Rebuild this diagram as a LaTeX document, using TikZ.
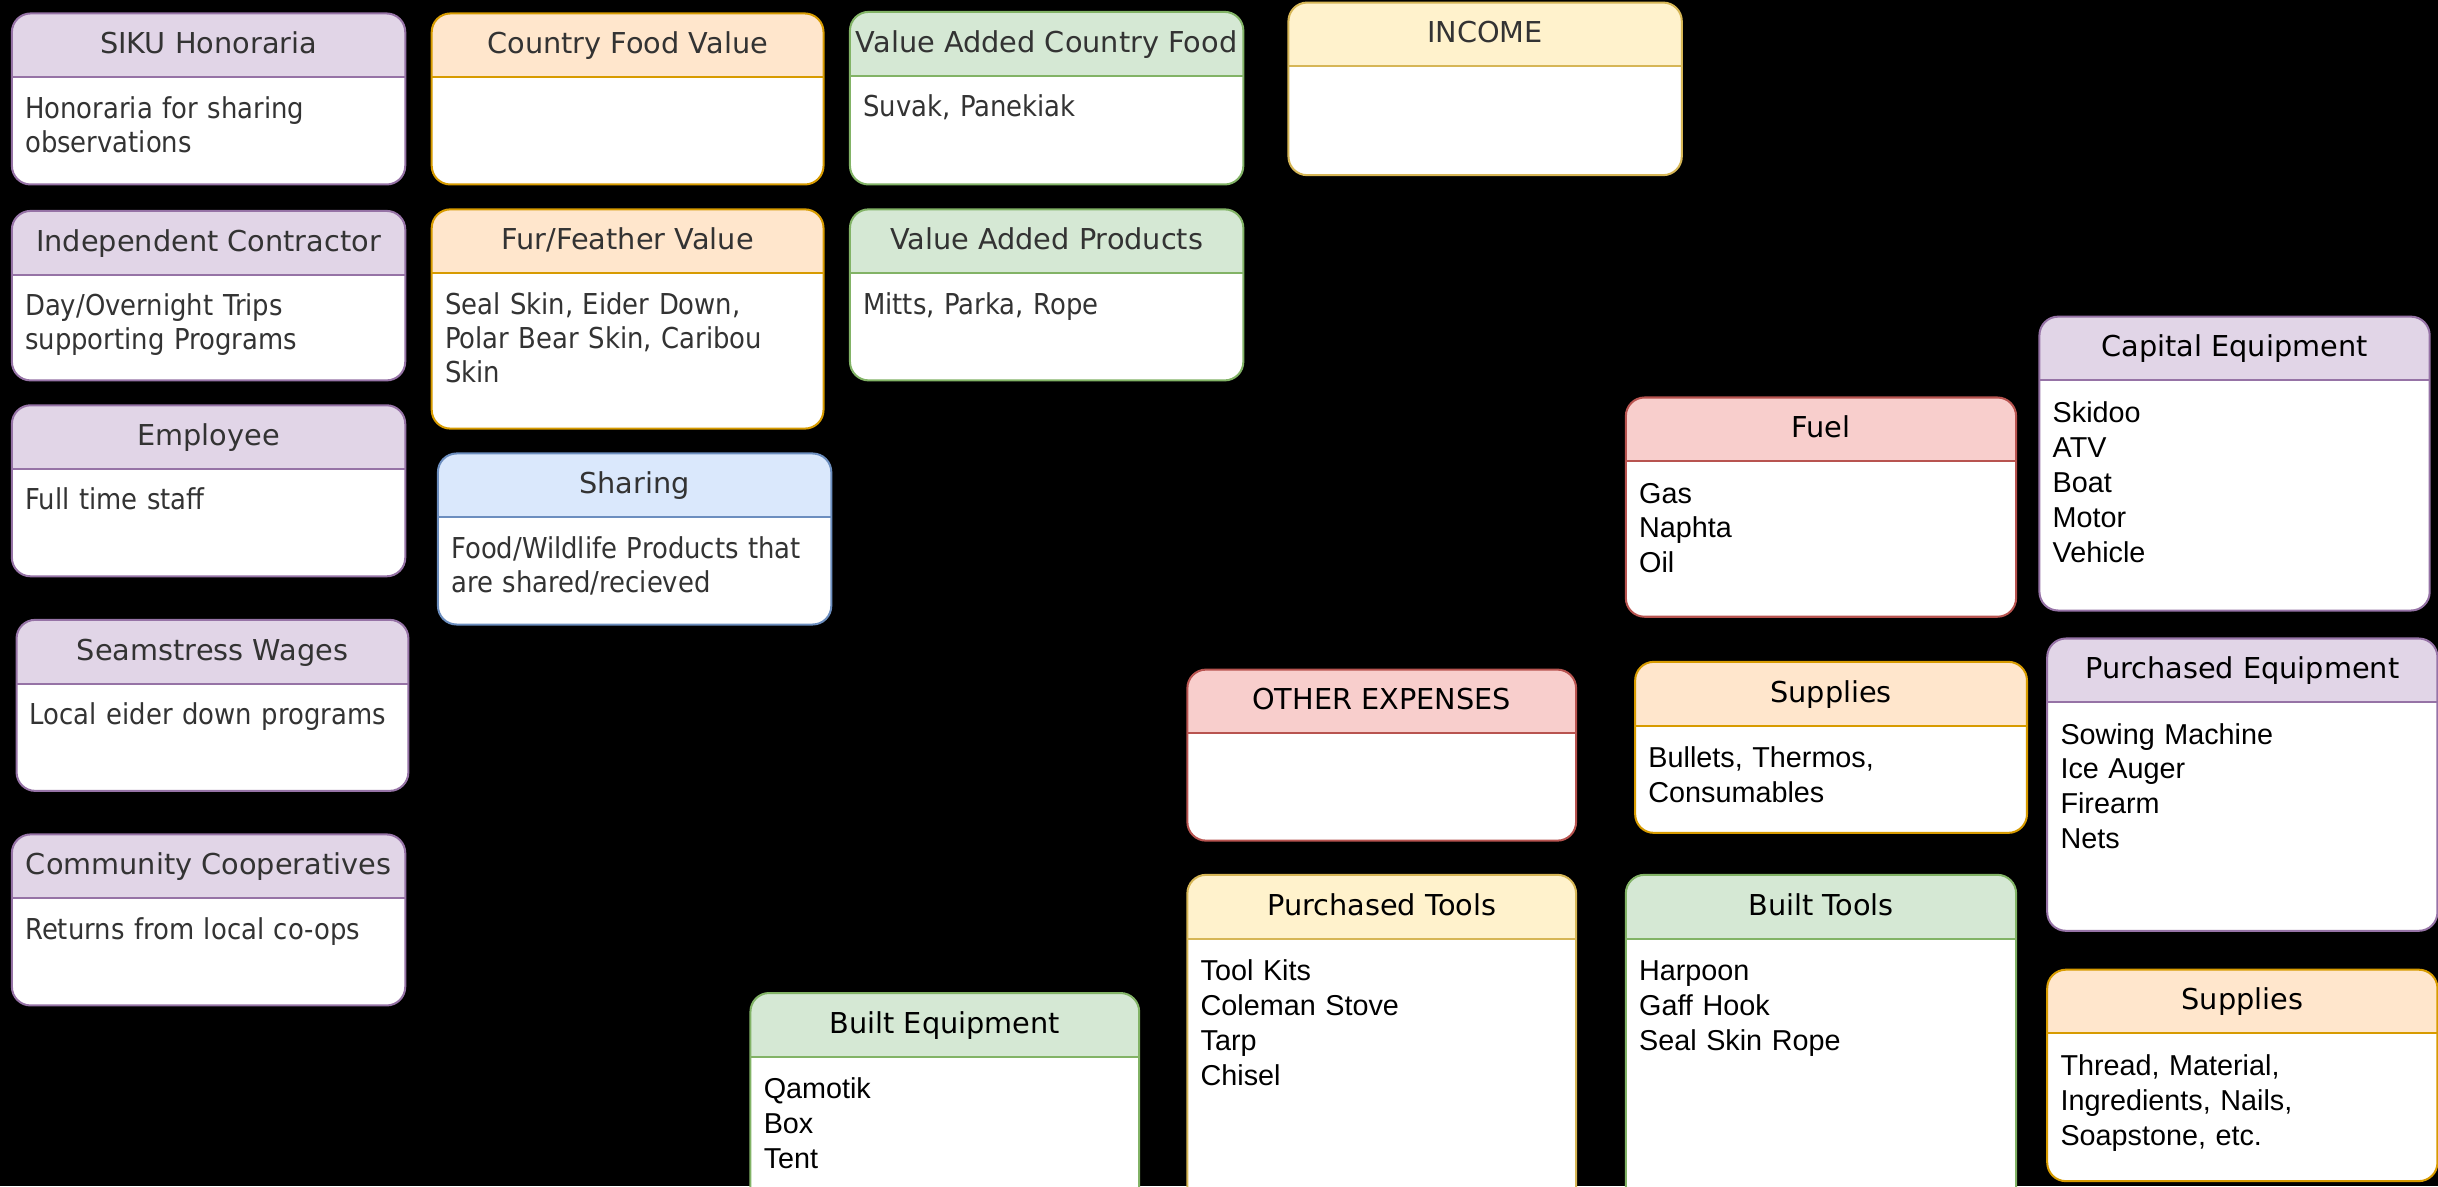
\documentclass[tikz,border=0pt]{standalone}
\usepackage{fontspec}
\usepackage{xcolor}
\usepackage{tikz}
\setmainfont{DejaVu Sans}
\newfontfamily\headfont{DejaVu Sans}
\newfontfamily\notefont[FakeStretch=0.9]{DejaVu Sans}
\newfontfamily\listfont{Liberation Sans}
\definecolor{purplefill}{HTML}{E1D5E7}
\definecolor{purpleline}{HTML}{9673A6}
\definecolor{orangefill}{HTML}{FFE6CC}
\definecolor{orangeline}{HTML}{D79B00}
\definecolor{greenfill}{HTML}{D5E8D4}
\definecolor{greenline}{HTML}{82B366}
\definecolor{yellowfill}{HTML}{FFF2CC}
\definecolor{yellowline}{HTML}{D6B656}
\definecolor{redfill}{HTML}{F8CECC}
\definecolor{redline}{HTML}{B85450}
\definecolor{bluefill}{HTML}{DAE8FC}
\definecolor{blueline}{HTML}{6C8EBF}

\begin{document}
\begin{tikzpicture}[x=1pt, y=-1pt,
	lane/.style={draw=#1line, fill=white, line width=1.3pt, rounded corners=12pt, anchor=north west, inner sep=0pt,
		path picture={\fill[#1fill, sharp corners] (path picture bounding box.north west) rectangle ([yshift=-41pt]path picture bounding box.north east);
			\draw[#1line, line width=1.3pt, sharp corners] ([yshift=-41pt]path picture bounding box.north west) -- ([yshift=-41pt]path picture bounding box.north east);}},
	lefthead/.style={anchor=base, inner sep=0pt, text=black!80, font=\headfont\fontsize{18.5}{22}\selectfont},
	righthead/.style={anchor=base, inner sep=0pt, text=black, font=\headfont\fontsize{18.5}{22}\selectfont},
	leftlist/.style={anchor=base west, inner sep=0pt, text width=238pt, align=left, text=black!80, font=\notefont\fontsize{18.5}{22}\selectfont},
	rightlist/.style={anchor=base west, inner sep=0pt, text width=238pt, align=left, text=black, font=\listfont\fontsize{18.5}{22.5}\selectfont}]
	\useasboundingbox (0,0) rectangle (1568,763);
	\clip (0,0) rectangle (1568,763);
	\fill[black] (0,0) rectangle (1568,763);

	\node[lane=purple, minimum width=253pt, minimum height=110pt] (siku) at (7,8) {};
	\node[lefthead] (sikuhead) at ([yshift=-26.5pt]siku.north) {SIKU Honoraria};
	\node[leftlist] (sikutext) at ([xshift=9pt, yshift=-68pt]siku.north west) {Honoraria for sharing\\observations};

	\node[lane=purple, minimum width=253pt, minimum height=109pt] (contractor) at (7,135) {};
	\node[lefthead] (contractorhead) at ([yshift=-26.5pt]contractor.north) {Independent Contractor};
	\node[leftlist] (contractortext) at ([xshift=9pt, yshift=-68pt]contractor.north west) {Day/Overnight Trips\\supporting Programs};

	\node[lane=purple, minimum width=253pt, minimum height=110pt] (employee) at (7,260) {};
	\node[lefthead] (employeehead) at ([yshift=-26.5pt]employee.north) {Employee};
	\node[leftlist] (employeetext) at ([xshift=9pt, yshift=-68pt]employee.north west) {Full time staff};

	\node[lane=purple, minimum width=252pt, minimum height=110pt] (seamstress) at (10,398) {};
	\node[lefthead] (seamstresshead) at ([yshift=-26.5pt]seamstress.north) {Seamstress Wages};
	\node[leftlist] (seamstresstext) at ([xshift=9pt, yshift=-68pt]seamstress.north west) {Local eider down programs};

	\node[lane=purple, minimum width=253pt, minimum height=110pt] (coop) at (7,536) {};
	\node[lefthead] (coophead) at ([yshift=-26.5pt]coop.north) {Community Cooperatives};
	\node[leftlist] (cooptext) at ([xshift=9pt, yshift=-68pt]coop.north west) {Returns from local co-ops};

	\node[lane=orange, minimum width=252pt, minimum height=110pt] (countryfood) at (277,8) {};
	\node[lefthead] (countryfoodhead) at ([yshift=-26.5pt]countryfood.north) {Country Food Value};

	\node[lane=orange, minimum width=252pt, minimum height=141pt] (fur) at (277,134) {};
	\node[lefthead] (furhead) at ([yshift=-26.5pt]fur.north) {Fur/Feather Value};
	\node[leftlist] (furtext) at ([xshift=9pt, yshift=-68pt]fur.north west) {Seal Skin, Eider Down,\\Polar Bear Skin, Caribou\\Skin};

	\node[lane=blue, minimum width=253pt, minimum height=110pt] (sharing) at (281,291) {};
	\node[lefthead] (sharinghead) at ([yshift=-26.5pt]sharing.north) {Sharing};
	\node[leftlist] (sharingtext) at ([xshift=9pt, yshift=-68pt]sharing.north west) {Food/Wildlife Products that\\are shared/recieved};

	\node[lane=green, minimum width=253pt, minimum height=111pt] (addedfood) at (546,7) {};
	\node[lefthead] (addedfoodhead) at ([yshift=-26.5pt]addedfood.north) {Value Added Country Food};
	\node[leftlist] (addedfoodtext) at ([xshift=9pt, yshift=-68pt]addedfood.north west) {Suvak, Panekiak};

	\node[lane=green, minimum width=253pt, minimum height=110pt] (addedproducts) at (546,134) {};
	\node[lefthead] (addedproductshead) at ([yshift=-26.5pt]addedproducts.north) {Value Added Products};
	\node[leftlist] (addedproductstext) at ([xshift=9pt, yshift=-68pt]addedproducts.north west) {Mitts, Parka, Rope};

	\node[lane=yellow, minimum width=253pt, minimum height=111pt] (income) at (828,1) {};
	\node[lefthead] (incomehead) at ([yshift=-26.5pt]income.north) {INCOME};

	\node[lane=red, minimum width=251pt, minimum height=141pt] (fuel) at (1045,255) {};
	\node[righthead] (fuelhead) at ([yshift=-26.5pt]fuel.north) {Fuel};
	\node[rightlist] (fueltext) at ([xshift=9pt, yshift=-68.5pt]fuel.north west) {Gas\\Naphta\\Oil};

	\node[lane=purple, minimum width=251pt, minimum height=189pt] (capital) at (1311,203) {};
	\node[righthead] (capitalhead) at ([yshift=-26.5pt]capital.north) {Capital Equipment};
	\node[rightlist] (capitaltext) at ([xshift=9pt, yshift=-68.5pt]capital.north west) {Skidoo\\ATV\\Boat\\Motor\\Vehicle};

	\node[lane=red, minimum width=250pt, minimum height=110pt] (other) at (763,430) {};
	\node[righthead] (otherhead) at ([yshift=-26.5pt]other.north) {OTHER EXPENSES};

	\node[lane=orange, minimum width=252pt, minimum height=110pt] (supplies) at (1051,425) {};
	\node[righthead] (supplieshead) at ([yshift=-26.5pt]supplies.north) {Supplies};
	\node[rightlist] (suppliestext) at ([xshift=9pt, yshift=-68.5pt]supplies.north west) {Bullets, Thermos,\\Consumables};

	\node[lane=purple, minimum width=251pt, minimum height=188pt] (purchequip) at (1316,410) {};
	\node[righthead] (purchequiphead) at ([yshift=-26.5pt]purchequip.north) {Purchased Equipment};
	\node[rightlist] (purchequiptext) at ([xshift=9pt, yshift=-68.5pt]purchequip.north west) {Sowing Machine\\Ice Auger\\Firearm\\Nets};

	\node[lane=yellow, minimum width=250pt, minimum height=240pt] (purchtools) at (763,562) {};
	\node[righthead] (purchtoolshead) at ([yshift=-26.5pt]purchtools.north) {Purchased Tools};
	\node[rightlist] (purchtoolstext) at ([xshift=9pt, yshift=-68.5pt]purchtools.north west) {Tool Kits\\Coleman Stove\\Tarp\\Chisel};

	\node[lane=green, minimum width=251pt, minimum height=240pt] (builttools) at (1045,562) {};
	\node[righthead] (builttoolshead) at ([yshift=-26.5pt]builttools.north) {Built Tools};
	\node[rightlist] (builttoolstext) at ([xshift=9pt, yshift=-68.5pt]builttools.north west) {Harpoon\\Gaff Hook\\Seal Skin Rope};

	\node[lane=green, minimum width=250pt, minimum height=170pt] (builtequip) at (482,638) {};
	\node[righthead] (builtequiphead) at ([yshift=-26.5pt]builtequip.north) {Built Equipment};
	\node[rightlist] (builtequiptext) at ([xshift=9pt, yshift=-68.5pt]builtequip.north west) {Qamotik\\Box\\Tent};

	\node[lane=orange, minimum width=251pt, minimum height=136pt] (sewsupplies) at (1316,623) {};
	\node[righthead] (sewsupplieshead) at ([yshift=-26.5pt]sewsupplies.north) {Supplies};
	\node[rightlist] (sewsuppliestext) at ([xshift=9pt, yshift=-68.5pt]sewsupplies.north west) {Thread, Material,\\Ingredients, Nails,\\Soapstone, etc.};
\end{tikzpicture}
\end{document}
